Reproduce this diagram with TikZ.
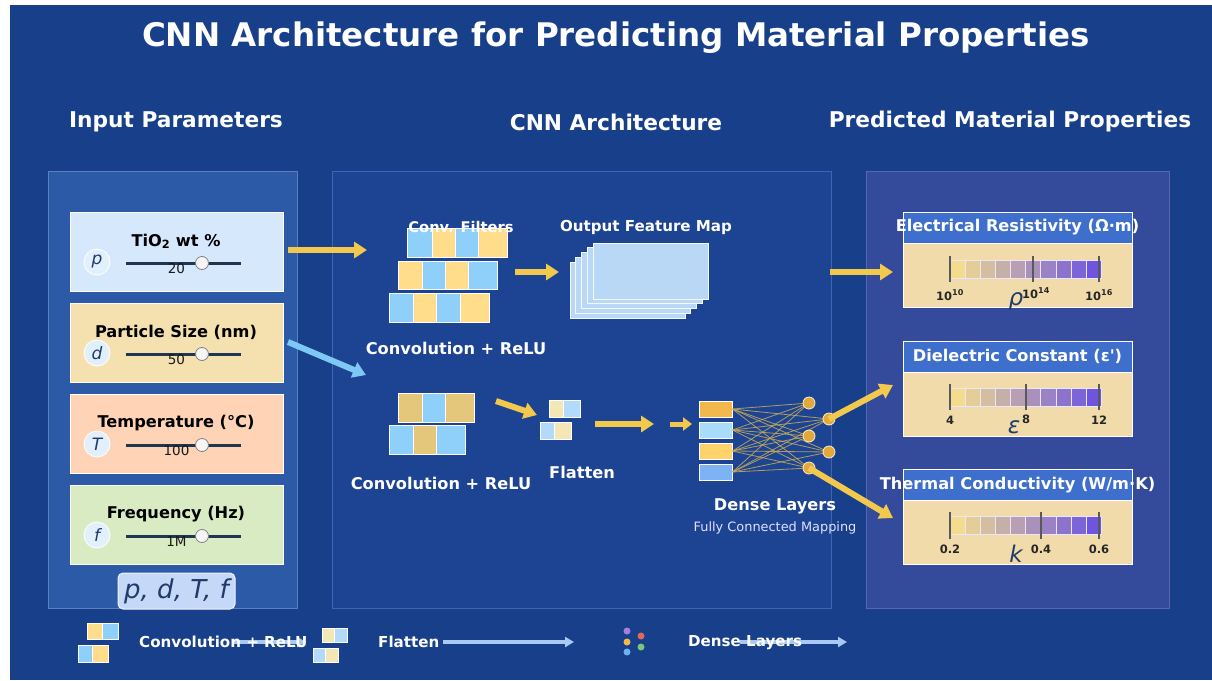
\documentclass[tikz,border=0pt]{standalone}
\usepackage{fontspec}
\setmainfont{DejaVu Sans}
\newfontfamily\plainlig{DejaVu Sans}[Ligatures=TeXOff]
\usetikzlibrary{arrows.meta}
\definecolor{bg}{HTML}{173F8A}
\definecolor{leftpanel}{HTML}{2C5AA6}
\definecolor{leftborder}{HTML}{5B80C2}
\definecolor{midpanel}{HTML}{1D4393}
\definecolor{midborder}{HTML}{3F65B0}
\definecolor{rightpanel}{HTML}{344A9A}
\definecolor{rightborder}{HTML}{5468B0}
\definecolor{inA}{HTML}{D6E8FB}
\definecolor{inB}{HTML}{F5E1B0}
\definecolor{inC}{HTML}{FFD3B5}
\definecolor{inD}{HTML}{D9EBC3}
\definecolor{navy}{HTML}{1F3A6B}
\definecolor{slidercol}{HTML}{1F3550}
\definecolor{ayellow}{HTML}{F2C94C}
\definecolor{ablue}{HTML}{7EC8F5}
\definecolor{cellblue}{HTML}{8FD0FB}
\definecolor{cellyellow}{HTML}{FFDD8A}
\definecolor{celltan}{HTML}{E5C77B}
\definecolor{cream}{HTML}{F3E8B5}
\definecolor{lblue}{HTML}{B3DAFA}
\definecolor{fmap}{HTML}{B8D8F5}
\definecolor{dOrange}{HTML}{F2B84B}
\definecolor{dLblue}{HTML}{A8DCFA}
\definecolor{dYellow}{HTML}{FFD36B}
\definecolor{dBlue}{HTML}{7BB3F5}
\definecolor{neuron}{HTML}{E3A83A}
\definecolor{wire}{HTML}{C8AC55}
\definecolor{hdr}{HTML}{3F6FCC}
\definecolor{body}{HTML}{F2DBAA}
\definecolor{cmapY}{HTML}{F3DC8E}
\definecolor{cmapP}{HTML}{6E55E0}
\definecolor{legarrow}{HTML}{A9C9F2}
\definecolor{pdtf}{HTML}{C5D8F8}
\definecolor{dotP}{HTML}{A47FE0}
\definecolor{dotR}{HTML}{E0675A}
\definecolor{dotY}{HTML}{F2B84B}
\definecolor{dotG}{HTML}{7CC47A}
\definecolor{dotB}{HTML}{6FB0F0}
\tikzset{
  bfs/.style={font=\bfseries\fontsize{#1}{#1}\selectfont},
  inbox/.style={draw=white, line width=1pt, minimum width=213pt, minimum height=79pt, inner sep=0pt},
  letter/.style={circle, draw=white, line width=0.8pt, fill=inA!70!white, minimum size=26pt, inner sep=0pt, text=navy, font=\itshape\fontsize{17}{17}\selectfont},
  slider/.style={line width=3pt, slidercol},
  knob/.style={circle, draw=gray, fill=white!93!gray, line width=0.8pt, minimum size=13pt, inner sep=0pt},
  yarrow/.style={-{Triangle[length=13pt,width=16pt]}, line width=6pt, ayellow},
  barrow/.style={-{Triangle[length=13pt,width=16pt]}, line width=6pt, ablue},
  cell/.style={draw=white, line width=0.8pt},
  neur/.style={circle, fill=neuron, draw=white!80!neuron, line width=0.8pt, minimum size=12pt, inner sep=0pt},
  drect/.style={draw=white, line width=1pt, minimum width=33pt, minimum height=16pt, inner sep=0pt},
  outhdr/.style={draw=white, line width=1pt, fill=hdr, minimum width=229pt, minimum height=31pt, inner sep=0pt},
  outbody/.style={draw=white, line width=1pt, fill=body, minimum width=229pt, minimum height=64pt, inner sep=0pt},
  tick/.style={line width=1.3pt, black!65},
  ticklab/.style={text=black!85, font=\bfseries\fontsize{11.5}{11.5}\selectfont},
  greek/.style={text=navy, font=\itshape\fontsize{23}{23}\selectfont},
  legarr/.style={-{Triangle[length=9pt,width=10pt]}, line width=4pt, legarrow},
}
\newcommand{\cmapbar}[2]{%
  \foreach \i in {0,...,9}{%
    \pgfmathsetmacro{\pp}{100-\i*100/9}%
    \fill[cmapY!\pp!cmapP, draw=white!85!cmapP, line width=0.4pt] ({#1+\i*15.1},#2) rectangle ({#1+(\i+1)*15.1},{#2+18});
  }%
}
\newcommand{\inputbox}[6]{% name, cy, colour, label, letter, value
  \node[inbox, fill=#3] (#1) at (176.5,#2) {};
  \node[bfs=16.2, text=black] (#1-lab) at (176,#2-10) {#4};
  \node[letter] (#1-let) at (97,#2+10.5) {#5};
  \draw[slider] (126,#2+11.5) -- (241,#2+11.5);
  \node[text=black!90, font=\fontsize{13.5}{13.5}\selectfont] (#1-val) at (176.5,#2+17.5) {#6};
  \node[knob] (#1-knob) at (202,#2+11.5) {};
}
\begin{document}
\begin{tikzpicture}[x=1pt,y=-1pt]
\useasboundingbox (0,0) rectangle (1212,680);
\fill[white] (0,0) rectangle (1212,680);
\fill[bg] (10,5) rectangle (1212,680);

% title and headers
\node[bfs=32.5, text=white] (title) at (616,38) {CNN Architecture for Predicting Material Properties};
\node[bfs=21.7, text=white] (hin) at (176,122) {Input Parameters};
\node[bfs=21.7, text=white] (hcnn) at (616,122) {CNN Architecture};
\node[bfs=21.7, text=white] (hout) at (1010,122) {Predicted Material Properties};

% panels
\draw[fill=leftpanel, draw=leftborder, line width=1pt] (48,171) rectangle (297,608);
\draw[fill=midpanel, draw=midborder, line width=1pt] (332,171) rectangle (831,608);
\draw[fill=rightpanel, draw=rightborder, line width=1pt] (866,171) rectangle (1169,608);

% input boxes
\inputbox{bA}{251.5}{inA}{TiO\textsubscript{2} wt \%}{p}{20}
\inputbox{bB}{342.5}{inB}{Particle Size (nm)}{d}{50}
\inputbox{bC}{433.5}{inC}{Temperature (°C)}{T}{100}
\inputbox{bD}{524.5}{inD}{Frequency (Hz)}{f}{1M}
\node[draw=white!70!pdtf, line width=1pt, fill=pdtf, rounded corners=5pt, minimum width=117pt, minimum height=36pt, inner sep=0pt, text=navy, font=\itshape\fontsize{26}{26}\selectfont] (pdtf) at (176.5,591) {p, d, T, f};

% arrows from inputs
\coordinate (a1s) at (288,250); \coordinate (a1e) at (367,250);
\draw[yarrow] (a1s) -- (a1e);
\coordinate (a2s) at (288,342); \coordinate (a2e) at (366,375);
\draw[barrow] (a2s) -- (a2e);

% conv filters (upper)
\foreach \x/\w/\c in {407/25/cellblue,432/23/cellyellow,455/23/cellblue,478/29/cellyellow}
  \draw[cell, fill=\c] (\x,228) rectangle (\x+\w,257);
\foreach \x/\w/\c in {398/24/cellyellow,422/23/cellblue,445/23/cellyellow,468/29/cellblue}
  \draw[cell, fill=\c] (\x,261) rectangle (\x+\w,289);
\foreach \x/\w/\c in {389/24/cellblue,413/23/cellyellow,436/24/cellblue,460/29/cellyellow}
  \draw[cell, fill=\c] (\x,293) rectangle (\x+\w,322);
\node[bfs=14.7, text=white] (convf) at (461,227) {Conv. Filters};
\node[bfs=15.1, text=white] (ofm) at (646,227) {Output Feature Map};
\node[bfs=16.2, text=white] (cr1) at (456,348) {Convolution + ReLU};

\coordinate (a3s) at (515,272); \coordinate (a3e) at (559,272);
\draw[yarrow] (a3s) -- (a3e);

% feature maps
\foreach \k in {0,...,4}
  \draw[fill=fmap, draw=white!85!fmap, line width=1pt] ({570+\k*5.75},{262-\k*4.75}) rectangle ({685+\k*5.75},{318-\k*4.75});

% conv (lower)
\foreach \x/\w/\c in {398/24/celltan,422/23/cellblue,445/29/celltan}
  \draw[cell, fill=\c] (\x,393) rectangle (\x+\w,422);
\foreach \x/\w/\c in {389/24/cellblue,413/23/celltan,436/29/cellblue}
  \draw[cell, fill=\c] (\x,425) rectangle (\x+\w,454);
\node[bfs=16.2, text=white] (cr2) at (441,483) {Convolution + ReLU};

\coordinate (a4s) at (496,401); \coordinate (a4e) at (537,415);
\draw[yarrow] (a4s) -- (a4e);

% flatten
\draw[cell, fill=cream] (549,400) rectangle (563,417);
\draw[cell, fill=lblue] (563,400) rectangle (580,417);
\draw[cell, fill=lblue] (540,422) rectangle (554,439);
\draw[cell, fill=cream] (554,422) rectangle (571,439);
\node[bfs=16.2, text=white] (flat) at (582,472) {Flatten};

\coordinate (a5s) at (595,424); \coordinate (a5e) at (654,424);
\draw[yarrow] (a5s) -- (a5e);
\coordinate (a6s) at (670,424); \coordinate (a6e) at (692,424);
\draw[-{Triangle[length=9pt,width=13pt]}, line width=5pt, ayellow] (a6s) -- (a6e);

% dense layers
\node[drect, fill=dOrange] (d1) at (715.5,409) {};
\node[drect, fill=dLblue] (d2) at (715.5,430) {};
\node[drect, fill=dYellow] (d3) at (715.5,451) {};
\node[drect, fill=dBlue] (d4) at (715.5,472) {};
\coordinate (n1a) at (809,403);
\coordinate (n1b) at (809,436);
\coordinate (n1c) at (809,468);
\coordinate (n2a) at (829,419);
\coordinate (n2b) at (829,452);
\foreach \d in {d1,d2,d3,d4}{
  \foreach \n in {n1a,n1b,n1c,n2a,n2b}{
    \draw[wire, line width=0.8pt, opacity=0.85] (\d.east) -- (\n);
  }
}
\node[neur] (N1a) at (n1a) {};
\node[neur] (N1b) at (n1b) {};
\node[neur] (N1c) at (n1c) {};
\node[neur] (N2a) at (n2a) {};
\node[neur] (N2b) at (n2b) {};
\node[bfs=16.2, text=white] (dl) at (775,506) {Dense Layers};
\node[text=white!88!blue, font=\fontsize{12.9}{12.9}\selectfont] (fcm) at (775,528) {Fully Connected Mapping};

% arrows to outputs
\coordinate (o1s) at (830,272); \coordinate (o1e) at (893,272);
\draw[yarrow] (o1s) -- (o1e);
\coordinate (o2e) at (893,385);
\draw[yarrow] (N2a.center) -- (o2e);
\coordinate (o3e) at (893,518);
\draw[yarrow] (N1c.center) -- (o3e);

% output boxes
\node[outbody] (ob1) at (1017.5,275) {};
\node[outhdr] (oh1) at (1017.5,227.5) {};
\node[bfs=16.2, text=white] (oh1t) at (oh1) {Electrical Resistivity (Ω·m)};
\cmapbar{950}{260}
\draw[tick] (950,256) -- (950,282);
\draw[tick] (1033,256) -- (1033,282);
\draw[tick] (1099,256) -- (1099,282);
\node[ticklab] (t11) at (950,295) {10\textsuperscript{10}};
\node[ticklab] (t12) at (1036,293) {10\textsuperscript{14}};
\node[ticklab] (t13) at (1099,295) {10\textsuperscript{16}};
\node[greek] (rho) at (1016,301) {ρ};

\node[outbody] (ob2) at (1017.5,404) {};
\node[outhdr] (oh2) at (1017.5,356.5) {};
\node[text=white, font=\plainlig\bfseries\fontsize{16.2}{16.2}\selectfont] (oh2t) at (oh2) {Dielectric Constant (ε')};
\cmapbar{950}{388}
\draw[tick] (950,384) -- (950,410);
\draw[tick] (1026,384) -- (1026,410);
\draw[tick] (1099,384) -- (1099,410);
\node[ticklab] (t21) at (950,420) {4};
\node[ticklab] (t22) at (1026,419) {8};
\node[ticklab] (t23) at (1099,420) {12};
\node[greek] (eps) at (1014,427) {ε};

\node[outbody] (ob3) at (1017.5,532) {};
\node[outhdr] (oh3) at (1017.5,485) {};
\node[bfs=16.2, text=white] (oh3t) at (oh3) {Thermal Conductivity (W/m·K)};
\cmapbar{950}{516}
\draw[tick] (950,512) -- (950,539);
\draw[tick] (1041,512) -- (1041,539);
\draw[tick] (1099,512) -- (1099,539);
\node[ticklab] (t31) at (950,549) {0.2};
\node[ticklab] (t32) at (1041,549) {0.4};
\node[ticklab] (t33) at (1099,549) {0.6};
\node[greek] (kk) at (1016,554) {k};

% bottom legend
\draw[cell, fill=cellyellow] (87,623) rectangle (102,639);
\draw[cell, fill=cellblue] (102,623) rectangle (118,639);
\draw[cell, fill=cellblue] (78,645) rectangle (92,662);
\draw[cell, fill=cellyellow] (92,645) rectangle (108,662);
\coordinate (l1s) at (232,642); \coordinate (l1e) at (306,642);
\draw[legarr] (l1s) -- (l1e);
\node[bfs=15.1, text=white, anchor=west, inner sep=0pt] (lg1) at (139,642) {Convolution + ReLU};
\draw[cell, fill=cream] (322,628) rectangle (334,642);
\draw[cell, fill=lblue] (334,628) rectangle (347,642);
\draw[cell, fill=lblue] (313,648) rectangle (325,662);
\draw[cell, fill=cream] (325,648) rectangle (338,662);
\node[bfs=15.1, text=white, anchor=west, inner sep=0pt] (lg2) at (378,642) {Flatten};
\coordinate (l2s) at (443,642); \coordinate (l2e) at (574,642);
\draw[legarr] (l2s) -- (l2e);
\fill[dotP] (627,631) circle (3.5pt);
\fill[dotR] (641,636) circle (3.5pt);
\fill[dotY] (627,642) circle (3.5pt);
\fill[dotG] (641,647) circle (3.5pt);
\fill[dotB] (627,652) circle (3.5pt);
\coordinate (l3s) at (740,642); \coordinate (l3e) at (847,642);
\draw[legarr] (l3s) -- (l3e);
\node[bfs=15.1, text=white, anchor=west, inner sep=0pt] (lg3) at (688,643) {Dense Layers};
\end{tikzpicture}
\end{document}
